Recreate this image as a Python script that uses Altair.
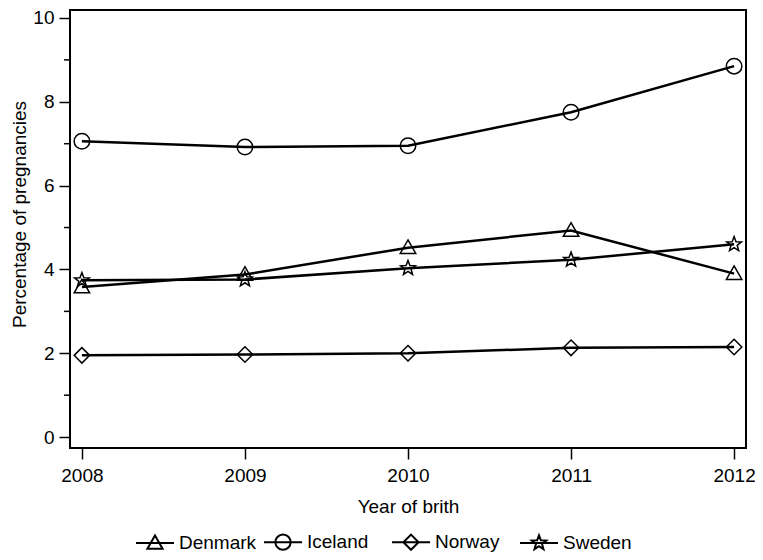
import math
import altair as alt
import pandas as pd

# ---- data ----
years = [2008, 2009, 2010, 2011, 2012]
countries = ["Denmark", "Iceland", "Norway", "Sweden"]
denmark = [3.58, 3.88, 4.52, 4.93, 3.90]
iceland = [7.06, 6.92, 6.95, 7.75, 8.85]
norway = [1.95, 1.97, 2.00, 2.13, 2.15]
sweden = [3.74, 3.76, 4.03, 4.23, 4.60]
y_major = [0, 2, 4, 6, 8, 10]
y_minor = [1, 3, 5, 7, 9]

series = {"Denmark": denmark, "Iceland": iceland, "Norway": norway, "Sweden": sweden}
rows = []
for c in countries:
    for yr, v in zip(years, series[c]):
        rows.append({"country": c, "year": yr, "pct": v})
df = pd.DataFrame(rows)
minor_df = pd.DataFrame({"pct": y_minor})

FONT = "Liberation Sans"

# ---- marker shapes (unit box -1..1) ----
def star(scale=1.0, inner=0.42):
    pts = []
    for k in range(10):
        a = math.radians(-90 + 36 * k)
        r = 1.0 if k % 2 == 0 else inner
        pts.append((r * math.cos(a) * scale, r * math.sin(a) * scale))
    return "M" + "L".join(f"{x:.3f},{y:.3f}" for x, y in pts) + "Z"

def tri(s=1.0):
    return f"M0,{-1*s:.3f}L{1*s:.3f},{0.75*s:.3f}L{-1*s:.3f},{0.75*s:.3f}Z"

def circ(s=1.0):
    return f"M{s:.3f},0A{s:.3f},{s:.3f} 0 1,1 {-s:.3f},0A{s:.3f},{s:.3f} 0 1,1 {s:.3f},0Z"

def diam(s=1.0):
    return f"M0,{-s:.3f}L{s:.3f},0L0,{s:.3f}L{-s:.3f},0Z"

marker_paths = [tri(1.0), circ(1.0), diam(1.0), star(1.0)]
ls = 0.4
legend_paths = ["M-1,0L1,0" + p for p in [tri(ls), circ(ls), diam(ls), star(ls)]]

xscale = alt.Scale(domain=[2007.927, 2012.073], nice=False, zero=False)
yscale = alt.Scale(domain=[-0.26, 10.19], nice=False, zero=False)

X = alt.X("year:Q", scale=xscale,
          axis=alt.Axis(values=years, format="d", title="Year of brith",
                        grid=False, domain=False, tickSize=11, tickWidth=1.5,
                        tickColor="black", labelPadding=7, labelFontSize=19,
                        labelFont=FONT, labelColor="black", titleFont=FONT,
                        titleFontSize=19, titleFontWeight="normal",
                        titleColor="black", titlePadding=12))
Y = alt.Y("pct:Q", scale=yscale,
          axis=alt.Axis(values=y_major, format="d",
                        title="Percentage of pregnancies",
                        grid=False, domain=False, tickSize=11, tickWidth=1.5,
                        tickColor="black", labelPadding=5, labelFontSize=19,
                        labelFont=FONT, labelColor="black", titleFont=FONT,
                        titleFontSize=19, titleFontWeight="normal",
                        titleColor="black", titleAngle=270, titleAlign="center",
                        titleBaseline="middle", titleX=-51, titleY=204))

base = alt.Chart(df)

lines = base.mark_line(color="black", strokeWidth=2.5).encode(
    x=X, y=Y, detail="country:N"
)

points = base.mark_point(filled=False, color="black", strokeWidth=1.5,
                         size=240, opacity=1).encode(
    x=X, y=Y,
    shape=alt.Shape("country:N",
                    scale=alt.Scale(domain=countries, range=marker_paths),
                    legend=None),
)

legend_layer = base.transform_filter("false").mark_point(
    filled=False, color="black", strokeWidth=2, opacity=1
).encode(
    shape=alt.Shape("country:N",
                    scale=alt.Scale(domain=countries, range=legend_paths),
                    legend=alt.Legend(title=None, orient="none",
                                      direction="horizontal",
                                      legendX=65, legendY=512,
                                      symbolSize=1444, symbolStrokeWidth=2,
                                      symbolStrokeColor="black",
                                      symbolOpacity=1,
                                      labelFont=FONT, labelFontSize=19,
                                      labelColor="black", labelOffset=4,
                                      columnPadding=3, gridAlign="all",
                                      padding=0)),
)

minor = alt.Chart(minor_df).mark_rule(color="black", strokeWidth=1.5).encode(
    y=Y,
    x=alt.value(-6), x2=alt.value(0),
)

chart = alt.layer(lines, points, legend_layer, minor).resolve_scale(
    shape="independent"
).resolve_legend(shape="independent").properties(
    width=676, height=438,
    autosize=alt.AutoSizeParams(type="none"),
    padding={"left": 62, "top": 2, "right": 9, "bottom": 104},
).configure_view(stroke="black", strokeWidth=2)

chart.save("out.html", embed_options={"renderer": "svg", "actions": False})
